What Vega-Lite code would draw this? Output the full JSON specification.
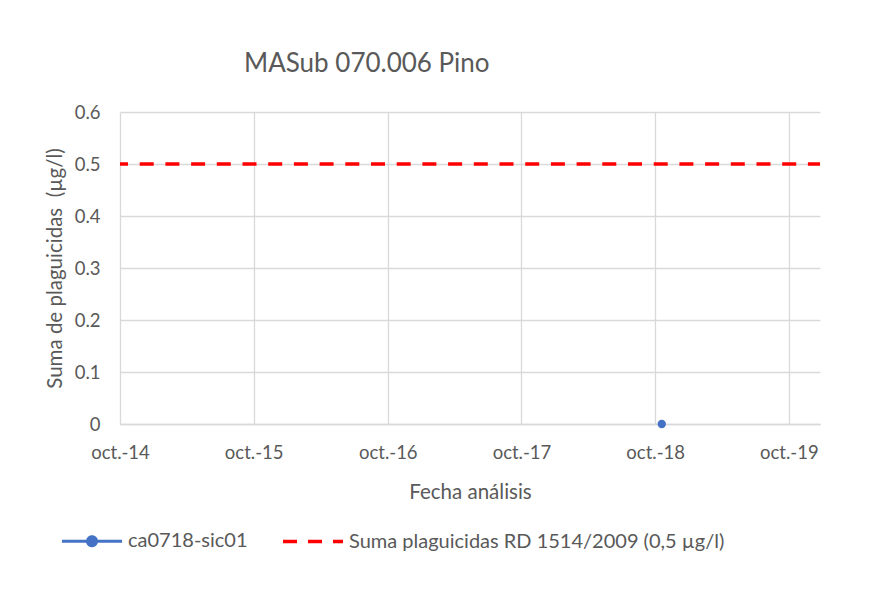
{
  "$schema": "https://vega.github.io/schema/vega-lite/v6.json",
  "width": 700,
  "height": 312,
  "autosize": {"type": "none"},
  "padding": {"left": 120, "top": 112, "right": 59, "bottom": 186},
  "background": "white",
  "config": {
    "view": {"stroke": null},
    "font": "Lato",
    "axis": {
      "labelFont": "Lato",
      "labelFontSize": 18.5,
      "labelColor": "#595959",
      "titleFont": "Lato",
      "titleFontSize": 20.5,
      "titleFontWeight": "normal",
      "titleColor": "#595959",
      "gridColor": "#d9d9d9",
      "gridWidth": 1.3,
      "ticks": false
    }
  },
  "title": {
    "text": "MASub 070.006 Pino",
    "anchor": "start",
    "frame": "group",
    "dx": 124,
    "offset": 26,
    "fontSize": 26,
    "font": "Lato",
    "fontWeight": "normal",
    "color": "#595959"
  },
  "data": {
    "values": [
      {"serie": "ca0718-sic01", "fecha": "2018-10-19", "valor": 0},
      {"serie": "Suma plaguicidas RD 1514/2009 (0,5 µg/l)", "fecha": "2014-10-01", "valor": 0.5},
      {"serie": "Suma plaguicidas RD 1514/2009 (0,5 µg/l)", "fecha": "2019-12-25", "valor": 0.5}
    ]
  },
  "encoding": {
    "x": {
      "field": "fecha",
      "type": "temporal",
      "scale": {
        "type": "utc",
        "domain": [
          {"year": 2014, "month": 10, "date": 1, "utc": true},
          {"year": 2019, "month": 12, "date": 25, "utc": true}
        ],
        "nice": false
      },
      "axis": {
        "title": "Fecha análisis",
        "grid": true,
        "domain": true,
        "domainColor": "#d9d9d9",
        "domainWidth": 1.3,
        "values": [
          {"year": 2014, "month": 10, "date": 1, "utc": true},
          {"year": 2015, "month": 10, "date": 1, "utc": true},
          {"year": 2016, "month": 10, "date": 1, "utc": true},
          {"year": 2017, "month": 10, "date": 1, "utc": true},
          {"year": 2018, "month": 10, "date": 1, "utc": true},
          {"year": 2019, "month": 10, "date": 1, "utc": true}
        ],
        "labelExpr": "'oct.-' + utcFormat(datum.value, '%y')",
        "labelFlush": false,
        "labelOverlap": false,
        "labelAngle": 0,
        "labelPadding": 19,
        "titlePadding": 21
      }
    },
    "y": {
      "field": "valor",
      "type": "quantitative",
      "scale": {"domain": [0, 0.6], "nice": false, "zero": true},
      "axis": {
        "title": "Suma de plaguicidas \u00a0(µg/l)",
        "domain": false,
        "grid": true,
        "values": [0, 0.1, 0.2, 0.3, 0.4, 0.5, 0.6],
        "format": ".1~f",
        "labelPadding": 20,
        "titlePadding": 9
      }
    },
    "color": {
      "field": "serie",
      "type": "nominal",
      "scale": {
        "domain": ["ca0718-sic01", "Suma plaguicidas RD 1514/2009 (0,5 µg/l)"],
        "range": ["#4472C4", "#FF0000"]
      },
      "legend": {
        "orient": "none",
        "legendX": -38,
        "legendY": 419,
        "direction": "horizontal",
        "title": null,
        "padding": 0,
        "symbolType": "stroke",
        "symbolSize": 3600,
        "symbolStrokeWidth": 3,
        "labelFont": "Lato",
        "labelFontSize": 20,
        "labelColor": "#595959",
        "labelOffset": 26,
        "labelLimit": 600,
        "columnPadding": 28,
        "encode": {
          "symbols": {
            "update": {
              "shape": {"signal": "datum.value == 'ca0718-sic01' ? 'M-1,0H1M-0.15,0A0.15,0.15,0,1,0,0.15,0A0.15,0.15,0,1,0,-0.15,0Z' : 'M-1,0H1'"},
              "strokeDash": {"signal": "datum.value == 'ca0718-sic01' ? [1, 0] : [14, 11]"},
              "fill": {"signal": "datum.value == 'ca0718-sic01' ? '#4472C4' : 'transparent'"},
              "stroke": {"signal": "datum.value == 'ca0718-sic01' ? '#4472C4' : '#FF0000'"},
              "strokeWidth": {"signal": "datum.value == 'ca0718-sic01' ? 3 : 3.5"},
              "opacity": {"value": 1}
            }
          }
        }
      }
    }
  },
  "layer": [
    {
      "transform": [{"filter": "datum.serie !== 'ca0718-sic01'"}],
      "mark": {"type": "line", "strokeWidth": 3.5, "strokeDash": [14, 11.7], "strokeDashOffset": 6}
    },
    {
      "transform": [{"filter": "datum.serie === 'ca0718-sic01'"}],
      "mark": {"type": "point", "filled": true, "size": 70, "opacity": 1}
    }
  ]
}
